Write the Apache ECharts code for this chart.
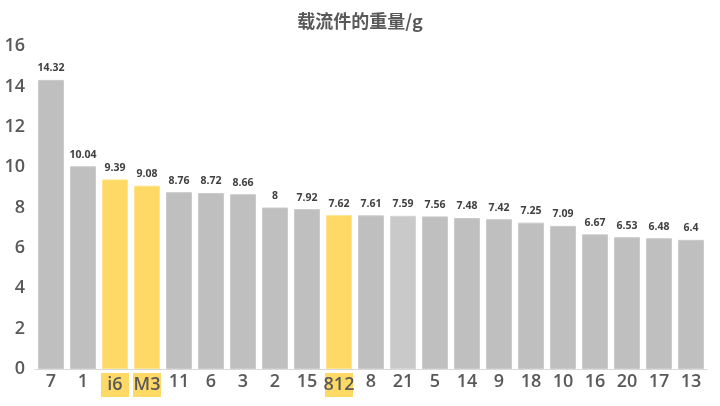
<!DOCTYPE html>
<html>
<head>
<meta charset="utf-8">
<script src="https://cdn.jsdelivr.net/npm/echarts@6/dist/echarts.min.js"></script>
<style>
html,body{margin:0;padding:0;background:#fff;}
#main{width:720px;height:406px;}
</style>
</head>
<body>
<div id="main"></div>
<script>
var titleText = '载流件的重量/g';
var categories = ['7','1','i6','M3','11','6','3','2','15','812','8','21','5','14','9','18','10','16','20','17','13'];
var weights = [14.32,10.04,9.39,9.08,8.76,8.72,8.66,8,7.92,7.62,7.61,7.59,7.56,7.48,7.42,7.25,7.09,6.67,6.53,6.48,6.4];
var highlighted = ['i6','M3','812'];
var lighter = ['21'];

var myChart = echarts.init(document.getElementById('main'));

var barData = weights.map(function (v, i) {
    var c = categories[i];
    if (highlighted.indexOf(c) >= 0) {
        return {value: v, itemStyle: {color: '#ffd966', borderColor: '#ffe38c', borderWidth: 1}};
    }
    if (lighter.indexOf(c) >= 0) {
        return {value: v, itemStyle: {color: '#c9c9c9', borderColor: '#d4d4d4', borderWidth: 1}};
    }
    return {value: v};
});

var option = {
    backgroundColor: '#fff',
    animation: false,
    title: {
        text: titleText,
        left: 'center',
        top: 7,
        textStyle: {
            color: '#595959',
            fontSize: 18,
            fontWeight: 'bold',
            fontFamily: 'Noto Sans CJK SC'
        }
    },
    grid: {left: 35, right: 13, top: 46, bottom: 37},
    xAxis: {
        type: 'category',
        data: categories,
        axisLine: {lineStyle: {color: '#d9d9d9', width: 1}},
        axisTick: {show: false},
        axisLabel: {
            color: '#595959',
            fontSize: 18,
            fontWeight: 600,
            fontFamily: 'Open Sans',
            margin: 4,
            interval: 0,
            formatter: function (v) {
                return highlighted.indexOf(v) >= 0 ? '{hl|' + v + '}' : v;
            },
            rich: {
                hl: {
                    color: '#595959',
                    fontSize: 18,
                    fontWeight: 600,
                    fontFamily: 'Open Sans',
                    backgroundColor: '#ffd966',
                    width: 28,
                    align: 'center',
                    height: 24,
                    lineHeight: 24
                }
            }
        }
    },
    yAxis: {
        type: 'value',
        min: 0,
        max: 16,
        interval: 2,
        axisLine: {show: false},
        axisTick: {show: false},
        splitLine: {show: false},
        axisLabel: {
            color: '#595959',
            fontSize: 18,
            fontWeight: 600,
            fontFamily: 'Open Sans',
            margin: 10
        }
    },
    series: [{
        type: 'bar',
        data: barData,
        barCategoryGap: '19%',
        itemStyle: {color: '#bfbfbf', borderColor: '#cacaca', borderWidth: 1},
        label: {
            show: true,
            position: 'top',
            distance: 6,
            color: '#404040',
            fontSize: 10.5,
            fontWeight: 'bold',
            fontFamily: 'Open Sans'
        }
    }]
};

myChart.setOption(option);
</script>
</body>
</html>
